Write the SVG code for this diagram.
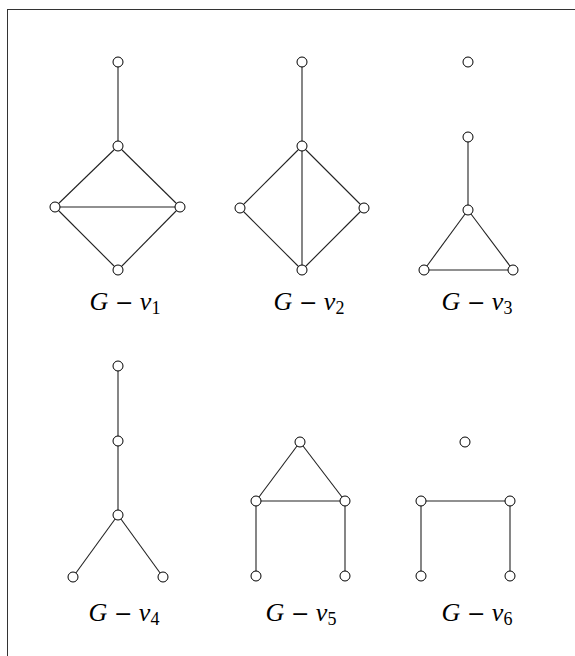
<svg xmlns="http://www.w3.org/2000/svg" width="575" height="656" viewBox="0 0 575 656">
<style>
.e{stroke:#222;stroke-width:1.1;fill:none}
.n{fill:#fff;stroke:#000;stroke-width:1}
.lbl{font-family:"Liberation Serif","Times New Roman",serif;font-size:26px;fill:#000;text-anchor:middle}
.i{font-style:italic}
.m{font-family:"DejaVu Serif",serif;font-size:22px}
.s{font-size:18px}
</style>
<rect x="7.5" y="9.5" width="620" height="700" fill="#fff" stroke="#333" stroke-width="1"/>
<g id="connectors">
<line class="e" x1="118" y1="62" x2="118" y2="146"/>
<line class="e" x1="118" y1="146" x2="55" y2="207"/>
<line class="e" x1="118" y1="146" x2="180" y2="207"/>
<line class="e" x1="55" y1="207" x2="180" y2="207"/>
<line class="e" x1="55" y1="207" x2="118" y2="270"/>
<line class="e" x1="180" y1="207" x2="118" y2="270"/>
<line class="e" x1="302" y1="62" x2="302" y2="146"/>
<line class="e" x1="302" y1="146" x2="240" y2="208"/>
<line class="e" x1="302" y1="146" x2="364" y2="208"/>
<line class="e" x1="302" y1="146" x2="302" y2="270"/>
<line class="e" x1="240" y1="208" x2="302" y2="270"/>
<line class="e" x1="364" y1="208" x2="302" y2="270"/>
<line class="e" x1="468" y1="137" x2="468" y2="210"/>
<line class="e" x1="468" y1="210" x2="424" y2="270"/>
<line class="e" x1="468" y1="210" x2="513" y2="270"/>
<line class="e" x1="424" y1="270" x2="513" y2="270"/>
<line class="e" x1="118" y1="366" x2="118" y2="441"/>
<line class="e" x1="118" y1="441" x2="118" y2="515"/>
<line class="e" x1="118" y1="515" x2="73" y2="577"/>
<line class="e" x1="118" y1="515" x2="163" y2="577"/>
<line class="e" x1="300" y1="442" x2="256" y2="501"/>
<line class="e" x1="300" y1="442" x2="345" y2="501"/>
<line class="e" x1="256" y1="501" x2="345" y2="501"/>
<line class="e" x1="256" y1="501" x2="256" y2="576"/>
<line class="e" x1="345" y1="501" x2="345" y2="576"/>
<line class="e" x1="421" y1="501" x2="510" y2="501"/>
<line class="e" x1="421" y1="501" x2="421" y2="576"/>
<line class="e" x1="510" y1="501" x2="510" y2="576"/>
</g>
<g id="graph1">
<circle class="n" cx="118" cy="62" r="5"/>
<circle class="n" cx="118" cy="146" r="5"/>
<circle class="n" cx="55" cy="207" r="5"/>
<circle class="n" cx="180" cy="207" r="5"/>
<circle class="n" cx="118" cy="270" r="5"/>
<text class="lbl" x="125" y="310"><tspan class="i">G</tspan> <tspan class="m">−</tspan> <tspan class="i">v</tspan><tspan class="s" dy="4">1</tspan></text>
</g>
<g id="graph2">
<circle class="n" cx="302" cy="62" r="5"/>
<circle class="n" cx="302" cy="146" r="5"/>
<circle class="n" cx="240" cy="208" r="5"/>
<circle class="n" cx="364" cy="208" r="5"/>
<circle class="n" cx="302" cy="270" r="5"/>
<text class="lbl" x="309" y="310"><tspan class="i">G</tspan> <tspan class="m">−</tspan> <tspan class="i">v</tspan><tspan class="s" dy="4">2</tspan></text>
</g>
<g id="graph3">
<circle class="n" cx="468" cy="62" r="5"/>
<circle class="n" cx="468" cy="137" r="5"/>
<circle class="n" cx="468" cy="210" r="5"/>
<circle class="n" cx="424" cy="270" r="5"/>
<circle class="n" cx="513" cy="270" r="5"/>
<text class="lbl" x="477" y="310"><tspan class="i">G</tspan> <tspan class="m">−</tspan> <tspan class="i">v</tspan><tspan class="s" dy="4">3</tspan></text>
</g>
<g id="graph4">
<circle class="n" cx="118" cy="366" r="5"/>
<circle class="n" cx="118" cy="441" r="5"/>
<circle class="n" cx="118" cy="515" r="5"/>
<circle class="n" cx="73" cy="577" r="5"/>
<circle class="n" cx="163" cy="577" r="5"/>
<text class="lbl" x="124" y="621"><tspan class="i">G</tspan> <tspan class="m">−</tspan> <tspan class="i">v</tspan><tspan class="s" dy="4">4</tspan></text>
</g>
<g id="graph5">
<circle class="n" cx="300" cy="442" r="5"/>
<circle class="n" cx="256" cy="501" r="5"/>
<circle class="n" cx="345" cy="501" r="5"/>
<circle class="n" cx="256" cy="576" r="5"/>
<circle class="n" cx="345" cy="576" r="5"/>
<text class="lbl" x="301" y="621"><tspan class="i">G</tspan> <tspan class="m">−</tspan> <tspan class="i">v</tspan><tspan class="s" dy="4">5</tspan></text>
</g>
<g id="graph6">
<circle class="n" cx="465" cy="442" r="5"/>
<circle class="n" cx="421" cy="501" r="5"/>
<circle class="n" cx="510" cy="501" r="5"/>
<circle class="n" cx="421" cy="576" r="5"/>
<circle class="n" cx="510" cy="576" r="5"/>
<text class="lbl" x="477" y="621"><tspan class="i">G</tspan> <tspan class="m">−</tspan> <tspan class="i">v</tspan><tspan class="s" dy="4">6</tspan></text>
</g>
</svg>
